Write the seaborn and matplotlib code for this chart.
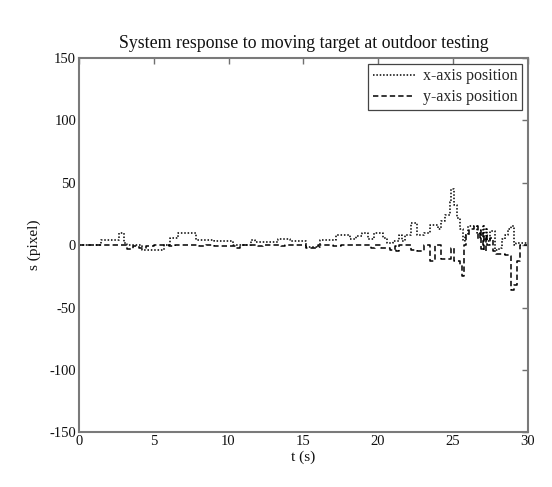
import numpy as np
import pandas as pd
import matplotlib
matplotlib.use("Agg")
import matplotlib.pyplot as plt
import seaborn as sns

# step breakpoints (time in s, offset in pixel)
t_x = [0, 1.5, 2.7, 3.0, 3.2, 4.2, 5.7, 6.1, 6.6, 7.8, 9.0, 10.3, 11.5, 11.8,
       13.3, 14.1, 15.2, 16.1, 17.2, 18.1, 18.5, 18.9, 19.3, 19.7, 20.3, 20.6,
       21.0, 21.4, 21.6, 21.8, 22.2, 22.6, 23.1, 23.5, 24.0, 24.2, 24.5, 24.8,
       24.9, 25.1, 25.3, 25.5, 25.7, 25.8, 26.0, 26.6, 26.8, 27.0, 27.1, 27.2,
       27.3, 27.5, 27.8, 28.1, 28.3, 28.5, 28.7, 28.9, 29.1, 29.2, 29.7, 30.0]
x_pos = [0, 4, 10, 2, 0, -4, 0, 6, 10, 4.5, 3, 0, 4.5, 2.5,
         5, 3.5, -1.5, 4, 8, 5, 7, 10, 5, 10, 6, 1.5,
         3, 8, 3, 8, 18, 8, 10, 16, 13, 19, 24, 35,
         45, 32, 22, 13, 3, 8, 15, 10, 8, 16, 4, 14,
         3, 11, -4, -2, 5, 8, 13, 15, 0, 2, 1.5, 1]

t_y = [0, 3.2, 3.6, 4.0, 4.5, 5.0, 6.0, 6.4, 8.0, 8.5, 9.0, 10.4, 10.8, 12.0,
       12.3, 13.5, 13.8, 15.2, 16.0, 17.0, 17.5, 19.5, 19.8, 20.2, 20.8, 21.1,
       21.2, 21.4, 22.2, 22.6, 23.1, 23.5, 23.8, 24.2, 24.9, 25.1, 25.5, 25.6,
       25.75, 25.9, 26.1, 26.4, 26.7, 26.8, 26.9, 27.0, 27.1, 27.2, 27.3, 27.5,
       27.7, 27.9, 28.5, 28.8, 28.9, 29.1, 29.3, 29.5, 30.0]
y_pos = [0, -3, -1, -2, -1, 0, -1, 0, -1, 0, -1, -2, 0, -1,
         0, -1, 0, -2, 0, -1, 0, -2, 0, -2, -4, -1,
         -5, 0, -4, -5, 0, -13, 0, -11, -2, -13, -16, -25,
         0, 8, 13, 15, 5, 12, -3, 10, -5, 8, 0, 6,
         -5, -7, -8, -9, -36, -32, -13, 0, 1]

x_ticks = [0, 5, 10, 15, 20, 25, 30]
y_ticks = [-150, -100, -50, 0, 50, 100, 150]

sns.set_style("white")
plt.rcParams["font.family"] = ["Liberation Serif", "DejaVu Serif"]
plt.rcParams["axes.unicode_minus"] = False

fig = plt.figure(figsize=(5.52, 4.87), dpi=100)
ax = fig.add_axes([0.143, 0.112, 0.813, 0.769])

df_x = pd.DataFrame({"t": t_x, "s": x_pos})
df_y = pd.DataFrame({"t": t_y, "s": y_pos})

sns.lineplot(data=df_x, x="t", y="s", ax=ax, color="black", lw=1.1,
             linestyle=(0, (1, 1.2)), drawstyle="steps-post",
             label="x-axis position")
sns.lineplot(data=df_y, x="t", y="s", ax=ax, color="black", lw=1.1,
             linestyle=(0, (3.5, 2)), drawstyle="steps-post",
             label="y-axis position")

ax.set_xlim(0, 30)
ax.set_ylim(-150, 150)
ax.set_xticks(x_ticks)
ax.set_yticks(y_ticks)
ax.tick_params(direction="in", length=4, width=1, color="#707070",
               top=True, right=True, labelsize=10.5, pad=2, labelcolor="#111111")
for sp in ax.spines.values():
    sp.set_color("#7a7a7a")
    sp.set_linewidth(1.5)

ax.set_title("System response to moving target at outdoor testing",
             fontsize=12.8, pad=7, color="#111111")
ax.set_xlabel("t (s)", fontsize=11, labelpad=2, color="#111111")
ax.set_ylabel("s (pixel)", fontsize=11, labelpad=6, color="#111111")

leg = ax.legend(loc="upper right", fontsize=11.5, fancybox=False,
                borderaxespad=0.35, handlelength=2.6, framealpha=1,
                borderpad=0.3, labelspacing=0.3, handletextpad=0.5)
leg.get_frame().set_edgecolor("#444444")
leg.get_frame().set_linewidth(0.9)

fig.savefig("out.png", dpi=100)
